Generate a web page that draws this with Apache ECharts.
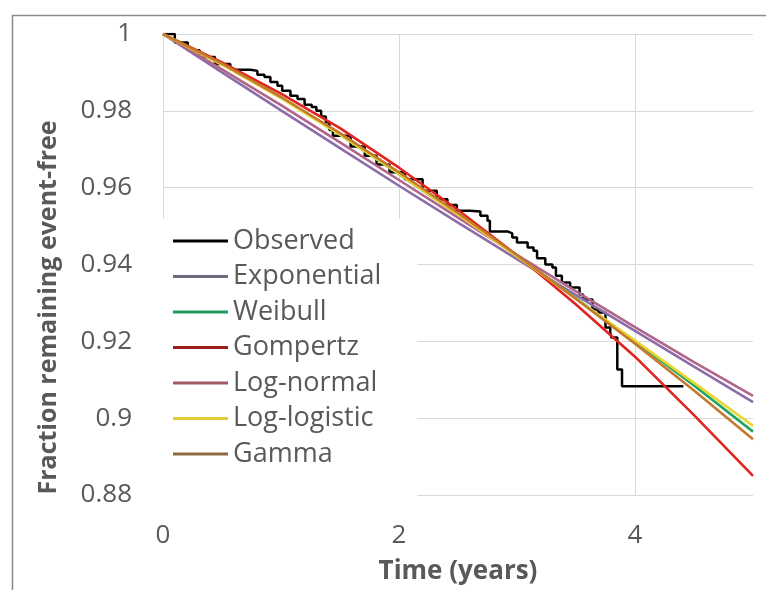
<!DOCTYPE html>
<html>
<head>
<meta charset="utf-8">
<script src="https://cdn.jsdelivr.net/npm/echarts@6/dist/echarts.min.js"></script>
<style>html,body{margin:0;padding:0;background:#fff;}#chart{width:766px;height:590px;}</style>
</head>
<body>
<div id="chart"></div>
<script>
// Model curve sample times (years)
const modelTimes = [0, 0.5, 1, 1.5, 2, 2.5, 3, 3.5, 4, 4.5, 5];
const exponential = [1, 0.9900, 0.9801, 0.9703, 0.9605, 0.9509, 0.9414, 0.9320, 0.9227, 0.9134, 0.9042];
const weibull     = [1, 0.9922, 0.9835, 0.9738, 0.9635, 0.9530, 0.9422, 0.9312, 0.9200, 0.9085, 0.8965];
const gompertz    = [1, 0.9926, 0.9845, 0.9755, 0.9652, 0.9542, 0.9424, 0.9296, 0.9160, 0.9008, 0.8850];
const lognormal   = [1, 0.9908, 0.9815, 0.9718, 0.9620, 0.9522, 0.9425, 0.9330, 0.9237, 0.9146, 0.9058];
const loglogistic = [1, 0.9920, 0.9833, 0.9738, 0.9636, 0.9530, 0.9421, 0.9311, 0.9202, 0.9092, 0.8980];
const gamma       = [1, 0.9923, 0.9836, 0.9742, 0.9640, 0.9534, 0.9424, 0.9310, 0.9194, 0.9072, 0.8945];

// Observed (Kaplan-Meier) step curve
const observedTimes  = [0, 0.10, 0.21, 0.31, 0.44, 0.57, 0.74, 0.80, 0.86, 0.91, 0.97, 1.01, 1.08, 1.14, 1.20, 1.26, 1.30, 1.34, 1.38, 1.41, 1.44, 1.59, 1.71, 1.81, 1.92, 2.05, 2.20, 2.32, 2.41, 2.49, 2.60, 2.69, 2.75, 2.77, 2.92, 2.96, 3.00, 3.09, 3.14, 3.17, 3.24, 3.30, 3.33, 3.38, 3.45, 3.53, 3.56, 3.64, 3.69, 3.75, 3.79, 3.80, 3.85, 3.89, 4.41];
const observedValues = [1, 0.9978, 0.9958, 0.9940, 0.9922, 0.9907, 0.9904, 0.9894, 0.9888, 0.9875, 0.9865, 0.9852, 0.9839, 0.9831, 0.9816, 0.9810, 0.9800, 0.9785, 0.9770, 0.9750, 0.9735, 0.9707, 0.9683, 0.9660, 0.9640, 0.9622, 0.9592, 0.9570, 0.9555, 0.9540, 0.9538, 0.9527, 0.9514, 0.9486, 0.9481, 0.9470, 0.9457, 0.9444, 0.9436, 0.9416, 0.9400, 0.9392, 0.9371, 0.9353, 0.9340, 0.9322, 0.9309, 0.9283, 0.9275, 0.9236, 0.9223, 0.9210, 0.9127, 0.9083, 0.9083];

const xTicks = [0, 2, 4];
const yTickMin = 0.88, yTickMax = 1, yTickStep = 0.02;

const pair = (xs, ys) => xs.map((x, i) => [x, ys[i]]);
const txt = '#595959';
const font = '"Open Sans", "Noto Sans", sans-serif';

const models = [
  ['Exponential', exponential, '#8E6CA8', '#6E6A80'],
  ['Weibull', weibull, '#22A55E', '#1E9A5C'],
  ['Gompertz', gompertz, '#E0241F', '#9E1E1E'],
  ['Log-normal', lognormal, '#B0668A', '#A45A62'],
  ['Log-logistic', loglogistic, '#ECD62E', '#E2CC3A'],
  ['Gamma', gamma, '#C47A2E', '#8E6A3E']
];

const series = [{
  name: 'Observed', type: 'line', step: 'end', symbol: 'none',
  data: pair(observedTimes, observedValues),
  lineStyle: { color: '#000', width: 2.5 }, itemStyle: { color: '#000' }, z: 2
}].concat(models.map((m, i) => ({
  name: m[0], type: 'line', symbol: 'none', smooth: false,
  data: pair(modelTimes, m[1]),
  lineStyle: { color: m[2], width: 2.6 }, itemStyle: { color: m[2] }, z: 3 + i
})));

const chart = echarts.init(document.getElementById('chart'), null, { renderer: 'canvas' });
chart.setOption({
  animation: false,
  backgroundColor: '#fff',
  textStyle: { fontFamily: font },
  graphic: [{
    type: 'rect', left: 10, top: 13, z: 100, silent: true,
    shape: { width: 820, height: 640 },
    style: { fill: 'none', stroke: '#8a8a8a', lineWidth: 1.5 }
  }],
  grid: { left: 163, right: 13, top: 34, bottom: 93, containLabel: false },
  xAxis: {
    type: 'value', min: 0, max: 5, interval: 2,
    name: 'Time (years)', nameLocation: 'middle', nameGap: 64,
    nameTextStyle: { fontSize: 26, fontWeight: 'bold', color: txt, fontFamily: font },
    axisLine: { show: false }, axisTick: { show: false },
    axisLabel: { fontSize: 26, color: txt, margin: 28, showMaxLabel: false, fontFamily: font,
      formatter: v => (xTicks.indexOf(v) >= 0 ? String(v) : '') },
    splitLine: { show: true, showMaxLine: false, lineStyle: { color: '#D9D9D9', width: 1 } }
  },
  yAxis: {
    type: 'value', min: yTickMin, max: yTickMax, interval: yTickStep,
    name: 'Fraction remaining event-free', nameLocation: 'middle', nameGap: 102,
    nameTextStyle: { fontSize: 25, fontWeight: 'bold', color: txt, fontFamily: font, padding: [0, 86, 0, 0] },
    axisLine: { show: false }, axisTick: { show: false },
    axisLabel: { fontSize: 26, color: txt, margin: 31, fontFamily: font },
    splitLine: { show: true, lineStyle: { color: '#D9D9D9', width: 1 } }
  },
  legend: {
    orient: 'vertical', left: 161, top: 219,
    backgroundColor: '#fff',
    padding: [7, 36, 33, 12],
    icon: 'rect',
    itemWidth: 55, itemHeight: 3, itemGap: 5.5,
    textStyle: { fontSize: 27, color: txt, lineHeight: 30, fontFamily: font },
    data: [{ name: 'Observed', itemStyle: { color: '#000' } }].concat(models.map(m => ({ name: m[0], itemStyle: { color: m[3] } })))
  },
  series: series
});
</script>
</body>
</html>
